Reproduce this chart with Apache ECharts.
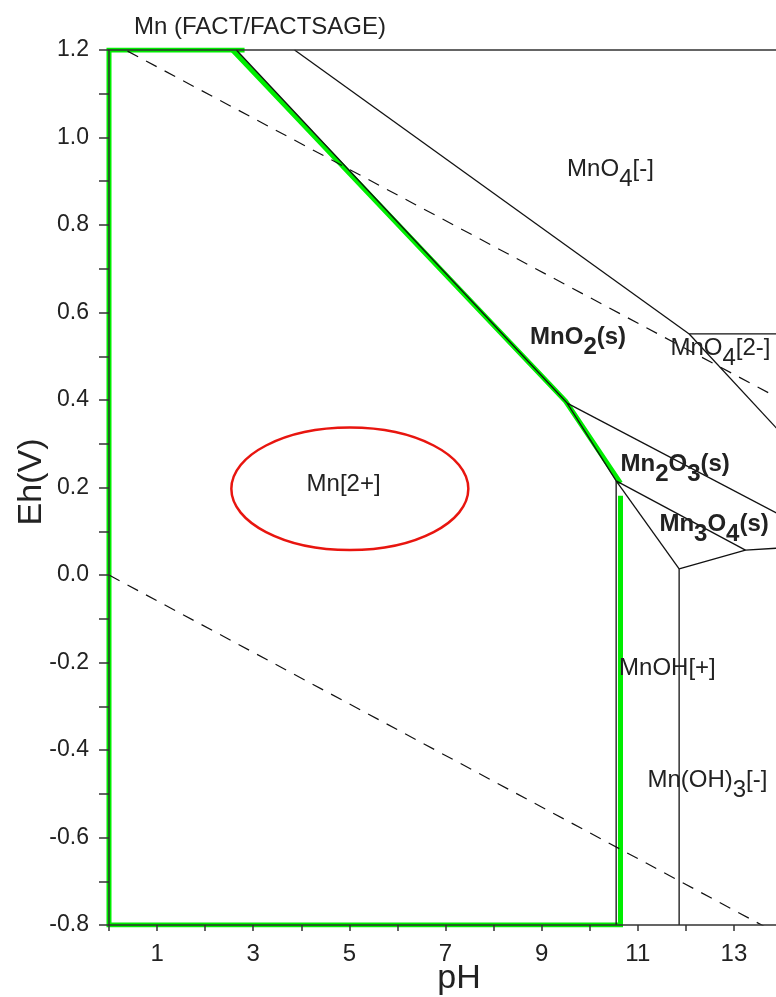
<!DOCTYPE html>
<html><head><meta charset="utf-8">
<script src="https://cdn.jsdelivr.net/npm/echarts@6/dist/echarts.min.js"></script>
<style>html,body{margin:0;padding:0;background:#fff}#c{width:776px;height:997px}</style>
</head><body><div id="c"></div>
<script>
// ---- axis tick labels ----
const xLabelValues = [1, 3, 5, 7, 9, 11, 13];
const yLabelValues = [-0.8, -0.6, -0.4, -0.2, 0.0, 0.2, 0.4, 0.6, 0.8, 1.0, 1.2];

// ---- stability-field boundaries, [pH, Eh(V)] ----
const mno2_mn2     = [[2.65, 1.2], [9.53, 0.393]];
const mn2o3_mn2    = [[9.53, 0.393], [10.55, 0.215]];
const mn2_mnoh     = [[10.55, 0.215], [10.55, -0.8]];
const mno2_mn2o3   = [[9.53, 0.393], [14.0, 0.135]];
const mn2o3_mn3o4  = [[10.55, 0.215], [13.24, 0.057]];
const mn3o4_mnoh   = [[10.55, 0.215], [11.86, 0.014]];
const mn3o4_mnoh3  = [[11.86, 0.014], [13.24, 0.057], [14.0, 0.062]];
const mnoh_mnoh3   = [[11.86, 0.014], [11.86, -0.8]];
const mno4_mno2    = [[3.86, 1.2], [12.07, 0.551]];
const mno4_mno42   = [[12.07, 0.551], [14.0, 0.551]];
const mno42_mno2   = [[12.07, 0.551], [14.0, 0.322]];

// ---- water stability lines (dashed) ----
const waterUpper = [[0, 1.22], [14.0, 0.40]];
const waterLower = [[0, 0.0], [14.0, -0.825]];

// ---- highlighted Mn[2+] field (green) ----
const greenOuter = [[10.64, 0.181], [10.64, -0.8], [0, -0.8], [0, 1.2], [2.82, 1.2]];
const greenDiag  = [[2.57, 1.2], [9.5, 0.397], [10.64, 0.21]];

// ---- red ellipse: [centre pH, centre Eh, radius pH, radius Eh] ----
const ellipse = [[5.01, 0.197, 2.465, 0.14]];

// ---- field labels: [pH, Eh, rich text, bold?] ----
const fieldLabels = [
  [9.53, 0.955, '{n|MnO}{s|4}{n|[-]}', 0],
  [8.76, 0.571, '{n|MnO}{s|2}{n|(s)}', 1],
  [11.68, 0.545, '{n|MnO}{s|4}{n|[2-]}', 0],
  [10.64, 0.280, '{n|Mn}{s|2}{n|O}{s|3}{n|(s)}', 1],
  [11.45, 0.143, '{n|Mn}{s|3}{n|O}{s|4}{n|(s)}', 1],
  [4.11, 0.235, '{n|Mn[2+]}', 0],
  [10.61, -0.187, '{n|MnOH[+]}', 0],
  [11.20, -0.443, '{n|Mn(OH)}{s|3}{n|[-]}', 0]
];

const FONT = "'Liberation Sans', Arial, Helvetica, sans-serif";
const TXT = '#222';
const LINE = '#111';

function lineSeries(data, opts) {
  return Object.assign({
    type: 'line', data: data, symbol: 'none', silent: true, animation: false,
    clip: true, z: 3,
    lineStyle: { color: LINE, width: 1.3 }
  }, opts || {});
}

const solid = [mno2_mn2, mn2o3_mn2, mn2_mnoh, mno2_mn2o3, mn2o3_mn3o4, mn3o4_mnoh,
  mn3o4_mnoh3, mnoh_mnoh3, mno4_mno2, mno4_mno42, mno42_mno2];

const series = [];
series.push(lineSeries(greenOuter, { z: 1, lineStyle: { color: '#00ee00', width: 5, cap: 'butt', join: 'miter' } }));
series.push(lineSeries(greenDiag, { z: 1, lineStyle: { color: '#00ee00', width: 5, cap: 'butt', join: 'miter' } }));
solid.forEach(d => series.push(lineSeries(d)));
series.push(lineSeries(waterUpper, { lineStyle: { color: LINE, width: 1.2, type: [12, 9] } }));
series.push(lineSeries(waterLower, { lineStyle: { color: LINE, width: 1.2, type: [12, 9] } }));

series.push({
  type: 'custom', data: ellipse, silent: true, animation: false, z: 4,
  encode: { x: 0, y: 1 },
  renderItem: function (params, api) {
    const c = api.coord([api.value(0), api.value(1)]);
    const s = api.size([api.value(2), api.value(3)]);
    return { type: 'ellipse', shape: { cx: c[0], cy: c[1], rx: s[0], ry: s[1] },
      style: { fill: 'none', stroke: '#e8150f', lineWidth: 2.5 } };
  }
});

series.push({
  type: 'custom', data: fieldLabels.map(l => [l[0], l[1]]), silent: true, animation: false, z: 6,
  encode: { x: 0, y: 1 },
  renderItem: function (params, api) {
    const l = fieldLabels[params.dataIndex];
    const p = api.coord([l[0], l[1]]);
    const w = l[3] ? 'bold' : 'normal';
    return { type: 'text', x: p[0], y: p[1], style: {
      text: l[2], align: 'left', verticalAlign: 'top', fill: TXT,
      fontFamily: FONT, fontSize: 24, fontWeight: w,
      rich: {
        n: { fontSize: 24, lineHeight: 24, verticalAlign: 'top', fontFamily: FONT, fontWeight: w, fill: TXT },
        s: { fontSize: 24, lineHeight: 34, padding: [10, 0, 0, 0], verticalAlign: 'top', fontFamily: FONT, fontWeight: w, fill: TXT }
      } } };
  }
});

const chart = echarts.init(document.getElementById('c'), null, { renderer: 'canvas' });
chart.setOption({
  animation: false,
  backgroundColor: '#fff',
  title: { text: 'Mn (FACT/FACTSAGE)', left: 129, top: 10,
    textStyle: { fontFamily: FONT, fontSize: 24, fontWeight: 'normal', color: TXT } },
  grid: { left: 109, top: 50, bottom: 72, right: -6, containLabel: false, outerBoundsMode: 'none' },
  xAxis: [{
    type: 'value', min: 0, max: 14, interval: 1, z: 5,
    name: 'pH', nameLocation: 'middle', nameGap: 37, nameMoveOverlap: false,
    nameTextStyle: { fontFamily: FONT, fontSize: 34, color: TXT, padding: [0, 0, 0, 27] },
    axisLine: { show: true, onZero: false, lineStyle: { color: '#333', width: 1.5 } },
    axisTick: { show: true, inside: false, length: 6, lineStyle: { color: '#333', width: 1.5 } },
    splitLine: { show: false },
    axisLabel: { margin: 17, fontFamily: FONT, fontSize: 24, color: TXT,
      formatter: v => xLabelValues.some(t => Math.abs(t - v) < 1e-6) ? String(Math.round(v)) : '' }
  }, {
    type: 'value', position: 'top', min: 0, max: 14, z: 5,
    axisLine: { show: true, onZero: false, lineStyle: { color: '#333', width: 1.5 } },
    axisTick: { show: false }, axisLabel: { show: false }, splitLine: { show: false }
  }],
  yAxis: {
    type: 'value', min: -0.8, max: 1.2, interval: 0.1, z: 5,
    name: 'Eh(V)', nameLocation: 'middle', nameGap: 60, nameRotate: 90, nameMoveOverlap: false,
    nameTextStyle: { fontFamily: FONT, fontSize: 34, color: TXT, padding: [0, 0, 0, 11] },
    axisLine: { show: true, onZero: false, lineStyle: { color: '#333', width: 1.5 } },
    axisTick: { show: true, inside: false, length: 10, lineStyle: { color: '#333', width: 1.5 } },
    splitLine: { show: false },
    axisLabel: { margin: 20, fontFamily: FONT, fontSize: 23, color: TXT,
      formatter: v => {
        const hit = yLabelValues.find(t => Math.abs(t - v) < 1e-6);
        return hit === undefined ? '' : (Math.abs(hit) < 1e-9 ? 0 : hit).toFixed(1);
      } }
  },
  series: series
});
</script></body></html>
